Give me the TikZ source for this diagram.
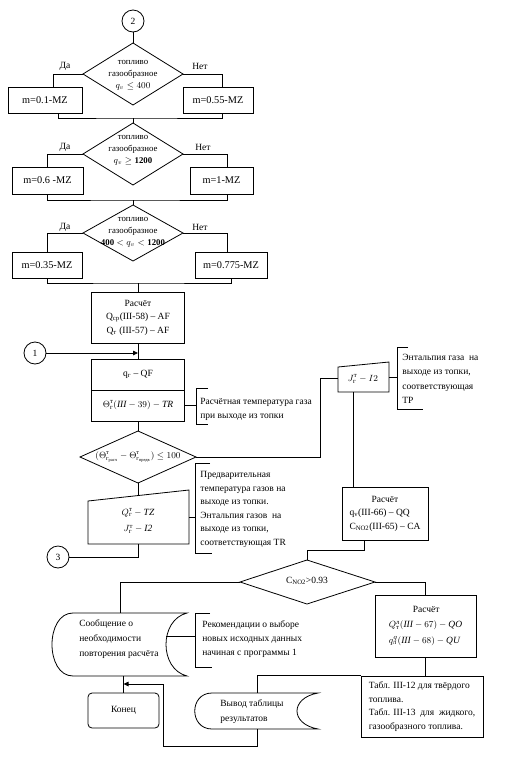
\documentclass[tikz,border=0pt]{standalone}
\usepackage{amsmath}
\usepackage{fontspec}
\setmainfont{Liberation Serif}
\usetikzlibrary{arrows.meta}
\newcommand\myfs{\fontsize{9.5pt}{13.5pt}\selectfont}
\newcommand\mydfs{\fontsize{8.8pt}{11.8pt}\selectfont}
\newcommand\mybfs{\fontsize{10.3pt}{13.5pt}\selectfont}
\tikzset{
  box/.style={draw, inner sep=0pt, align=center, font=\myfs},
  mbox/.style={box, font=\mybfs},
  dtext/.style={inner sep=0pt, align=center, font=\mydfs},
  note/.style={inner sep=0pt, align=left, anchor=north west, font=\myfs},
  circ/.style={draw, circle, minimum size=22pt, inner sep=0pt, font=\myfs},
  lab/.style={inner sep=0pt, font=\myfs},
  arr/.style={-{Triangle[length=5pt,width=4.5pt]}},
}
\begin{document}
\begin{tikzpicture}[x=1pt,y=-1pt,line width=0.8pt]
\useasboundingbox (0,0) rectangle (531,769);
% ---------- block 1
\node[circ] (c2) at (133,21) {2};
\coordinate (d1t) at (133,43); \coordinate (d1r) at (183,74);
\coordinate (d1b) at (133,105); \coordinate (d1l) at (83,74);
\draw (d1t) -- (d1r) -- (d1b) -- (d1l) -- cycle;
\node[dtext] (d1) at (133,75) {топливо\\газообразное\\$q_v \le 400$};
\node[mbox, minimum width=74, minimum height=26] (b01) at (45,100) {m=0.1-MZ};
\node[mbox, minimum width=70, minimum height=26] (b02) at (218,100) {m=0.55-MZ};
\node[lab] (y1) at (65,66) {Да};
\node[lab] (n1) at (200,66) {Нет};
\draw (c2) -- (d1t);
\draw (d1l) -| ([xshift=8pt]b01.north);
\draw (d1r) -| ([xshift=4pt]b02.north);
\coordinate (m1) at (133,118);
\draw ([xshift=13pt]b01.south) |- (m1) -| ([xshift=4pt]b02.south);
% ---------- block 2
\coordinate (d2t) at (133,123); \coordinate (d2r) at (183,154);
\coordinate (d2b) at (133,185); \coordinate (d2l) at (83,154);
\draw (d2t) -- (d2r) -- (d2b) -- (d2l) -- cycle;
\draw (m1) -- (d2t);
\node[dtext] (d2) at (133,150) {топливо\\газообразное\\$q_v \ge \textbf{1200}$};
\node[mbox, minimum width=71, minimum height=27] (b11) at (47.5,180.5) {m=0.6 -MZ};
\node[mbox, minimum width=63, minimum height=27] (b12) at (221.5,180.5) {m=1-MZ};
\node[lab] (y2) at (65,147) {Да};
\node[lab] (n2) at (203,147) {Нет};
\draw (d2l) -| (b11.north);
\draw (d2r) -| ([xshift=5.5pt]b12.north);
\coordinate (m2) at (133,200);
\draw (b11.south) |- (m2) -| ([xshift=5.5pt]b12.south);
% ---------- block 3
\coordinate (d3t) at (133,205); \coordinate (d3r) at (183,233);
\coordinate (d3b) at (133,261); \coordinate (d3l) at (83,233);
\draw (d3t) -- (d3r) -- (d3b) -- (d3l) -- cycle;
\draw (m2) -- (d3t);
\node[dtext] (d3) at (133,232) {топливо\\газообразное\\$\textbf{400} < q_v < \textbf{1200}$};
\node[mbox, minimum width=70, minimum height=26] (b21) at (47,265) {m=0.35-MZ};
\node[mbox, minimum width=72, minimum height=26] (b22) at (231,265) {m=0.775-MZ};
\node[lab] (y3) at (65,227) {Да};
\node[lab] (n3) at (200,227) {Нет};
\draw (d3l) -| (b21.north);
\draw (d3r) -| ([xshift=-4pt]b22.north);
\coordinate (m3) at (138,283);
\draw (b21.south) |- (m3) -| (b22.south);
% ---------- main column
\node[box, minimum width=93, minimum height=51] (r1) at (138,317.5)
  {Расчёт\\Q$_\text{ср}$(III-58) – AF\\Q$_\text{т}$ (III-57) – AF};
\draw (m3) -- (r1.north);
\node[circ] (c1) at (35,353) {1};
\node[box, minimum width=93, minimum height=31] (r2a) at (138,374.5) {q$_\text{г}$ – QF};
\node[box, minimum width=93, minimum height=31] (r2b) at (138,405.5)
  {$\Theta^{\text{т}}_{\text{г}}(\mathit{III}-39)-\mathit{TR}$};
\coordinate (j1) at (138,353);
\draw (r1) -- (r2a);
\draw[arr] (c1) -- (j1);
% annotation 1
\draw (208,388) -- (196,388) -- (196,424) -- (208,424);
\draw (r2b.east) -- (196,405.5);
\node[note] (a1) at (200,398) {Расчётная температура газа\\при выходе из топки};
% diamond 4
\coordinate (d4t) at (138,431); \coordinate (d4r) at (196,457);
\coordinate (d4b) at (138,483); \coordinate (d4l) at (80,457);
\draw (d4t) -- (d4r) -- (d4b) -- (d4l) -- cycle;
\draw (r2b) -- (d4t);
\node[dtext] (d4) at (138,457)
  {$(\Theta^{\text{т}}_{\text{г}_{\text{расч}}}-\Theta^{\text{т}}_{\text{г}_{\text{предв}}})\le 100$};
% trapezoid right
\coordinate (t2l) at (338,378);
\draw (338,367) -- (389,362) -- (389,392) -- (338,392) -- cycle;
\node[lab] (t2) at (363,379) {$J^{\text{т}}_{\text{г}}-I2$};
\draw (d4r) -- (320,457) |- (t2l);
\draw (389,377) -- (397,377);
\draw (408,347) -- (397,347) -- (397,409) -- (423,409);
\node[note, font={\fontsize{9.5pt}{14.2pt}\selectfont}] (a2) at (402,354)
  {Энтальпия газа\ \ на\\выходе из топки,\\соответствующая\\TP};
% Расчёт QQ/CA
\node[box, minimum width=86, minimum height=53, align=left] (r3) at (385,513.5)
  {\hspace*{22pt}Расчёт\\q$_\text{v}$(III-66) – QQ\\C$_\text{NO2}$(III-65) – CA};
\coordinate (t2b) at (353,392);
\draw (t2b) -- (t2b |- r3.north);
% trapezoid left
\draw (88,501) -- (189,490) -- (189,544) -- (88,544) -- cycle;
\coordinate (t1t) at (138,495.6);
\coordinate (t1b) at (138,544);
\draw (d4b) -- (t1t);
\node[dtext, font=\myfs] (t1) at (138,521)
  {$Q^{\text{т}}_{\text{г}}-\mathit{TZ}$\\[3pt]$J^{\text{т}}_{\text{г}}-\mathit{I2}$};
\draw (189,517) -- (195,517);
\draw (210,463) -- (195,463) -- (195,553) -- (212,553);
\node[note] (a3) at (200,471)
  {Предварительная\\температура газов на\\выходе из топки.\\Энтальпия газов\ \ на\\выходе из топки,\\соответствующая TR};
\node[circ] (c3) at (58,557) {3};
\draw (t1b) |- (c3);
% diamond 5
\coordinate (r3b) at (364,540);
\coordinate (j3) at (307,550);
\coordinate (d5t) at (307,560); \coordinate (d5r) at (375,582);
\coordinate (d5b) at (307,604); \coordinate (d5l) at (240,582);
\draw (d5t) -- (d5r) -- (d5b) -- (d5l) -- cycle;
\draw (r3b) |- (j3) -- (d5t);
\node[lab] (d5) at (307,581) {C$_\text{NO2}$>0.93};
% display shape 1
\draw (73,613) -- (187,613) .. controls (159,620) and (159,669) .. (187,676)
  -- (73,676) .. controls (45,676) and (45,613) .. (73,613) -- cycle;
\coordinate (s1t) at (120,613);
\coordinate (s1b) at (123,676);
\node[note, font={\fontsize{9.5pt}{15pt}\selectfont}] (s1) at (79,619)
  {Сообщение о\\необходимости\\повторения расчёта};
\draw (d5l) -| (s1t);
\draw (166,636) -- (195,636);
\draw (210,613) -- (195,613) -- (195,667) -- (212,667);
\node[note, font={\fontsize{9.5pt}{14pt}\selectfont}] (a4) at (202,620)
  {Рекомендации о выборе\\новых исходных данных\\начиная с программы 1};
% Конец
\node[box, rounded corners=4pt, minimum width=71, minimum height=35] (kon) at (123.5,710.5) {Конец};
\draw (s1b) -- (s1b |- kon.north);
% Расчёт QO/QU
\node[box, minimum width=101, minimum height=62, align=left] (r4) at (425.5,626)
  {\hspace*{24pt}Расчёт\\[2pt]$Q^{\text{л}}_{\text{т}}(\mathit{III}-67)-\mathit{QO}$\\[2pt]$q^{q}_{\text{л}}(\mathit{III}-68)-\mathit{QU}$};
\draw (d5r) -| (r4.north);
% Табл
\node[box, minimum width=122, minimum height=61, align=left] (tabl) at (422,706.5)
  {Табл. III-12 для твёрдого\\топлива.\\Табл. III-13\ \ для\ \ жидкого,\\газообразного топлива.};
\draw (r4.south) -- (r4.south |- tabl.north);
% Вывод
\draw (212,693) -- (318,693) .. controls (290,698) and (290,724) .. (318,729)
  -- (212,729) .. controls (189,729) and (189,693) .. (212,693) -- cycle;
\coordinate (s2t) at (257,693);
\coordinate (s2b) at (257,729);
\node[note, font={\fontsize{9.5pt}{15pt}\selectfont}] (s2) at (220,699) {Вывод таблицы\\результатов};
\draw (tabl.north west) -| (s2t);
\coordinate (j4) at (257,746);
\coordinate (j5) at (163,684);
\coordinate (j7) at (123.5,684);
\draw[arr] (s2b) -- (j4) -| (j5) -- (j7);
\end{tikzpicture}
\end{document}
